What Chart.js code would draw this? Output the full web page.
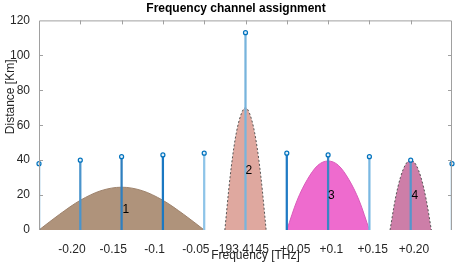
<!DOCTYPE html>
<html>
<head>
<meta charset="utf-8">
<script src="https://cdn.jsdelivr.net/npm/chart.js@4.4.0/dist/chart.umd.min.js"></script>
<style>
  body { margin: 0; background: #fff; }
</style>
</head>
<body>
<canvas id="freqChart" width="459" height="264"></canvas>

<script>
// x axis: offset from 193.4145 THz
const xTickValues = [-0.2, -0.15, -0.1, -0.05, 0, 0.05, 0.1, 0.15, 0.2];
// the spaces push the labels sideways like in the original figure
const xTickLabels = ['-0.20     ', '-0.15     ', '-0.1     ', '-0.05     ', '193.4145 ',
                     '     +0.05', '  +0.1', '  +0.15', '  +0.20'];
const yTickValues = [0, 20, 40, 60, 80, 100, 120];

// stems
const stemFreq = [-0.25, -0.2, -0.15, -0.1, -0.05, 0, 0.05, 0.1, 0.15, 0.2, 0.25];
const stemDist = [38, 40, 42, 43, 44, 113, 44, 43, 42, 40, 38];
const stemColors = ['#0072bd', '#4a94cc', '#2f7fbf', '#1a78c2', '#8ec4e8', '#78b4dc',
                    '#1f7ac4', '#3a86c5', '#7ab8e2', '#5596cc', '#0072bd'];

// channels
const ch1Freq = [-0.25, -0.225, -0.2, -0.175, -0.15, -0.125, -0.1, -0.075, -0.05];
const ch1Dist = [0, 9, 17, 22.5, 24.5, 22.5, 17, 9, 0];
const ch2Freq = [-0.025, -0.01875, -0.0125, -0.00625, 0, 0.00625, 0.0125, 0.01875, 0.025];
const ch2Dist = [0, 30, 52, 65, 70, 65, 52, 30, 0];
const ch3Freq = [0.05, 0.0625, 0.075, 0.0875, 0.1, 0.1125, 0.125, 0.1375, 0.15];
const ch3Dist = [0, 17, 29, 37, 39.5, 37, 29, 17, 0];
const ch4Freq = [0.175, 0.18125, 0.1875, 0.19375, 0.2, 0.20625, 0.2125, 0.21875, 0.225];
const ch4Dist = [0, 17.5, 30, 37.5, 40, 37.5, 30, 17.5, 0];

const chLabels = ['1', '2', '3', '4'];
const chLabelFreq = [-0.145, 0.004, 0.104, 0.205];
const chLabelDist = [11.5, 34, 19.5, 19.5];

const FONT = "'Liberation Sans', Arial, sans-serif";

function pts(xs, ys) {
  return xs.map((x, i) => ({ x: x, y: ys[i] }));
}

function channel(xs, ys, fillColor, lineColor, dash) {
  return {
    type: 'line',
    data: pts(xs, ys),
    backgroundColor: fillColor,
    borderColor: lineColor,
    borderWidth: 1,
    borderDash: dash,
    fill: 'origin',
    pointRadius: 0,
    cubicInterpolationMode: 'monotone',
    order: 3
  };
}

// box + inward ticks like matlab
const framePlugin = {
  id: 'frame',
  afterDatasetsDraw(chart) {
    const ctx = chart.ctx;
    const a = chart.chartArea;
    const xs = chart.scales.x, ys = chart.scales.y;
    ctx.save();
    ctx.strokeStyle = '#a0a0a0';
    ctx.lineWidth = 1;
    ctx.beginPath();
    ctx.moveTo(a.left + 0.5, a.bottom);
    ctx.lineTo(a.left + 0.5, a.top + 0.5);
    ctx.lineTo(a.right - 0.5, a.top + 0.5);
    ctx.lineTo(a.right - 0.5, a.bottom);
    for (const v of xTickValues) {
      const px = Math.round(xs.getPixelForValue(v)) + 0.5;
      ctx.moveTo(px, a.top);
      ctx.lineTo(px, a.top + 4);
    }
    for (const v of yTickValues.slice(1, -1)) {
      const py = Math.round(ys.getPixelForValue(v)) + 0.5;
      ctx.moveTo(a.left, py);
      ctx.lineTo(a.left + 4, py);
      ctx.moveTo(a.right, py);
      ctx.lineTo(a.right - 4, py);
    }
    ctx.stroke();

    ctx.fillStyle = '#000';
    ctx.font = '12px ' + FONT;
    ctx.textAlign = 'center';
    ctx.textBaseline = 'middle';
    chLabels.forEach((t, i) => {
      ctx.fillText(t, xs.getPixelForValue(chLabelFreq[i]), ys.getPixelForValue(chLabelDist[i]));
    });
    ctx.restore();
  }
};

var ctx = document.getElementById('freqChart').getContext('2d');
var chart = new Chart(ctx, {
  type: 'line',
  data: {
    datasets: [
      {
        type: 'line',
        data: pts(stemFreq, stemDist),
        showLine: false,
        pointRadius: 2,
        pointBorderWidth: 1.2,
        pointBorderColor: '#0072bd',
        pointBackgroundColor: '#e3f0fa',
        clip: false,
        order: 1
      },
      {
        type: 'bar',
        data: pts(stemFreq, stemDist),
        backgroundColor: stemColors,
        barThickness: 1.6,
        borderWidth: 0,
        order: 2
      },
      channel(ch1Freq, ch1Dist, '#af937b', '#9e836d', []),
      channel(ch2Freq, ch2Dist, '#dfa89f', '#555', [2, 2]),
      channel(ch3Freq, ch3Dist, '#ee6bce', '#d95eba', []),
      channel(ch4Freq, ch4Dist, '#cd7ea8', '#555', [2, 2])
    ]
  },
  options: {
    responsive: false,
    animation: false,
    layout: { padding: { left: 0, right: 7, top: 0, bottom: 0 } },
    plugins: {
      legend: { display: false },
      tooltip: { enabled: false },
      title: {
        display: true,
        text: '      Frequency channel assignment',
        color: '#000',
        font: { family: FONT, size: 12, weight: 'bold' },
        padding: { top: 1, bottom: 5 }
      }
    },
    scales: {
      x: {
        type: 'linear',
        min: -0.25,
        max: 0.25,
        offset: false,
        grid: { display: false, offset: false },
        border: { display: false },
        afterBuildTicks: (s) => { s.ticks = xTickValues.map(v => ({ value: v })); },
        afterFit: (s) => { s.height = 34; },
        ticks: {
          color: '#262626',
          font: { family: FONT, size: 12 },
          padding: 4,
          maxRotation: 0,
          autoSkip: false,
          callback: (v, i) => xTickLabels[i]
        },
        title: {
          display: true,
          text: '      Frequency [THz]',
          color: '#262626',
          font: { family: FONT, size: 12 },
          padding: { top: 0, bottom: 1 }
        }
      },
      y: {
        min: 0,
        max: 120,
        grid: { display: false },
        border: { display: false },
        afterBuildTicks: (s) => { s.ticks = yTickValues.map(v => ({ value: v })); },
        afterFit: (s) => { s.width = 39; },
        ticks: {
          color: '#262626',
          font: { family: FONT, size: 12 },
          padding: 1
        },
        title: {
          display: true,
          text: '                 Distance [Km]',
          color: '#262626',
          font: { family: FONT, size: 12 },
          padding: { top: 3, bottom: 0 }
        }
      }
    }
  },
  plugins: [framePlugin]
});
</script>
</body>
</html>
